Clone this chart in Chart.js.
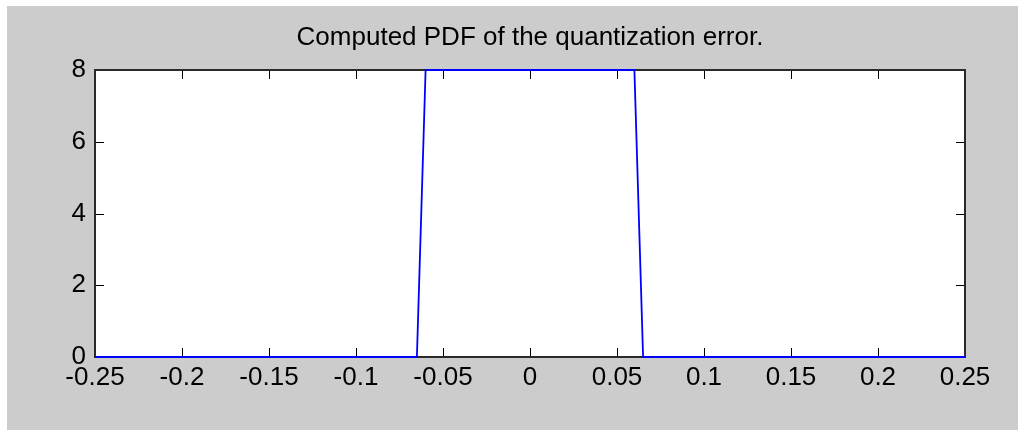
<!DOCTYPE html>
<html>
<head>
<meta charset="utf-8">
<script src="https://cdn.jsdelivr.net/npm/chart.js@4/dist/chart.umd.min.js"></script>
<style>
  html, body { margin: 0; padding: 0; background: #ffffff; }
  #bg { position: absolute; left: 7px; top: 6px; width: 1011px; height: 424px; background: #cccccc; }
  #wrap { position: absolute; left: 0; top: 0; width: 1025px; height: 433px; }
</style>
</head>
<body>
<div id="bg"></div>
<div id="wrap"><canvas id="c" width="1025" height="433"></canvas></div>
<script>
// ---- data ----
const errorValues = [-0.25, -0.065, -0.06, 0.06, 0.065, 0.25];
const pdfValues   = [0, 0, 8, 8, 0, 0];
const xTickValues = [-0.25, -0.2, -0.15, -0.1, -0.05, 0, 0.05, 0.1, 0.15, 0.2, 0.25];
const xTickLabels = ['-0.25', '-0.2', '-0.15', '-0.1', '-0.05', '0', '0.05', '0.1', '0.15', '0.2', '0.25'];
const yTickValues = [0, 2, 4, 6, 8];
const yTickLabels = ['0', '2', '4', '6', '8'];
const chartTitle = 'Computed PDF of the quantization error.';

const FONT = '"Liberation Sans", Arial, sans-serif';

const framePlugin = {
  id: 'frame',
  beforeDatasetsDraw(chart) {
    const { ctx, chartArea: a, scales } = chart;
    ctx.save();
    ctx.fillStyle = '#ffffff';
    ctx.fillRect(a.left, a.top, a.right - a.left, a.bottom - a.top);
    // inward ticks on all four sides
    ctx.strokeStyle = '#000000';
    ctx.lineWidth = 1;
    const tl = 9;
    ctx.beginPath();
    scales.x.ticks.forEach(t => {
      const x = Math.round(scales.x.getPixelForValue(t.value)) + 0.5;
      ctx.moveTo(x, a.bottom); ctx.lineTo(x, a.bottom - tl);
      ctx.moveTo(x, a.top); ctx.lineTo(x, a.top + tl);
    });
    scales.y.ticks.forEach(t => {
      const y = Math.round(scales.y.getPixelForValue(t.value)) + 0.5;
      ctx.moveTo(a.left, y); ctx.lineTo(a.left + tl, y);
      ctx.moveTo(a.right, y); ctx.lineTo(a.right - tl, y);
    });
    ctx.stroke();
    // box
    ctx.strokeStyle = '#2a2a2a';
    ctx.lineWidth = 2;
    ctx.strokeRect(a.left, a.top, a.right - a.left, a.bottom - a.top);
    ctx.restore();
  },
  afterDraw(chart) {
    const { ctx, chartArea: a } = chart;
    ctx.save();
    ctx.fillStyle = '#000000';
    ctx.font = '26px ' + FONT;
    ctx.textAlign = 'center';
    ctx.textBaseline = 'middle';
    ctx.fillText(chartTitle, (a.left + a.right) / 2, 38);
    ctx.restore();
  }
};

new Chart(document.getElementById('c'), {
  type: 'line',
  data: {
    datasets: [{
      data: errorValues.map((x, i) => ({ x: x, y: pdfValues[i] })),
      borderColor: '#0000ff',
      borderWidth: 1.8,
      pointRadius: 0,
      tension: 0,
      fill: false,
      clip: false
    }]
  },
  options: {
    responsive: false,
    devicePixelRatio: 1,
    animation: false,
    layout: { padding: { left: 0, right: 60, top: 70, bottom: 0 } },
    plugins: {
      legend: { display: false },
      tooltip: { enabled: false },
      title: { display: false }
    },
    scales: {
      x: {
        type: 'linear',
        min: -0.25, max: 0.25,
        afterBuildTicks(scale) { scale.ticks = xTickValues.map(v => ({ value: v })); },
        afterFit(scale) { scale.height = 76; },
        grid: { display: false, drawTicks: false },
        border: { display: false },
        ticks: {
          color: '#000000',
          font: { family: FONT, size: 26 },
          padding: 5,
          maxRotation: 0,
          autoSkip: false,
          callback: (v, i) => xTickLabels[i]
        }
      },
      y: {
        type: 'linear',
        min: 0, max: 8,
        afterBuildTicks(scale) { scale.ticks = yTickValues.map(v => ({ value: v })); },
        afterFit(scale) { scale.width = 95; },
        grid: { display: false, drawTicks: false },
        border: { display: false },
        ticks: {
          color: '#000000',
          font: { family: FONT, size: 26 },
          padding: 9,
          autoSkip: false,
          callback: (v, i) => yTickLabels[i]
        }
      }
    }
  },
  plugins: [framePlugin]
});
</script>
</body>
</html>
